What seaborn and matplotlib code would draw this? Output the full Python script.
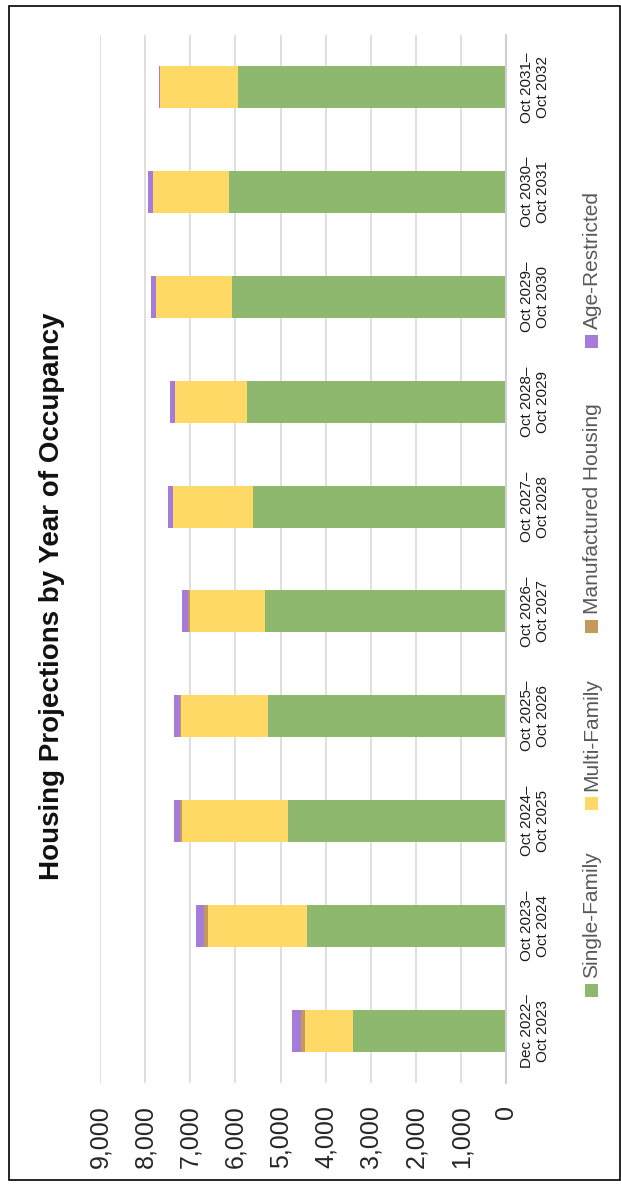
import numpy as np
import matplotlib
matplotlib.use('Agg')
import matplotlib.pyplot as plt
from matplotlib.patches import Rectangle
import seaborn as sns

periods = ['Dec 2022–\nOct 2023', 'Oct 2023–\nOct 2024', 'Oct 2024–\nOct 2025',
           'Oct 2025–\nOct 2026', 'Oct 2026–\nOct 2027', 'Oct 2027–\nOct 2028',
           'Oct 2028–\nOct 2029', 'Oct 2029–\nOct 2030', 'Oct 2030–\nOct 2031',
           'Oct 2031–\nOct 2032']
single_family = [3385, 4425, 4835, 5275, 5350, 5615, 5735, 6080, 6140, 5950]
multi_family = [1080, 2180, 2340, 1920, 1665, 1770, 1610, 1685, 1675, 1715]
manufactured = [80, 90, 45, 25, 40, 0, 0, 0, 0, 0]
age_restricted = [200, 180, 140, 150, 125, 110, 110, 110, 120, 20]
ticks = list(range(0, 9001, 1000))

series = ['Single-Family', 'Multi-Family', 'Manufactured Housing', 'Age-Restricted']
colors = ['#8FB86F', '#FFD966', '#C3995C', '#A67CDB']

sns.set_theme(style='white')
plt.rcParams['font.family'] = ['Liberation Sans', 'DejaVu Sans']

W, H = 621, 1186
fig = plt.figure(figsize=(W / 100, H / 100), dpi=100)
ax = fig.add_axes([100 / W, 1 - 1083 / H, (506.3 - 100) / W, (1083 - 35) / H])

# stacked bars: draw cumulative totals back to front
stack = np.cumsum([single_family, multi_family, manufactured, age_restricted], axis=0)
for i in range(3, -1, -1):
    sns.barplot(x=stack[i], y=periods, orient='h', color=colors[i], saturation=1,
                width=0.4, linewidth=0, ax=ax)

ax.set_xlim(9000, 0)
ax.set_ylim(-0.5, 9.5)
ax.set_xlabel('')
ax.set_ylabel('')
ax.set_xticks(ticks)
ax.set_xticklabels([f'{t:,}' for t in ticks], rotation=90, fontsize=18, color='#262626')
ax.tick_params(axis='x', length=0, pad=16)
ax.xaxis.grid(True, color='#d9d9d9', lw=1.2)
ax.yaxis.grid(False)
ax.set_axisbelow(True)

ax.yaxis.tick_right()
ax.tick_params(axis='y', length=0, pad=10)
for lab in ax.get_yticklabels():
    lab.set_rotation(90)
    lab.set_fontsize(11)
    lab.set_color('#1a1a1a')
    lab.set_ha('left')
    lab.set_va('center')
    lab.set_multialignment('center')

for s in ['top', 'bottom', 'left']:
    ax.spines[s].set_visible(False)
ax.spines['right'].set_color('#d0d0d0')
ax.spines['right'].set_linewidth(1.5)

# title (rotated with the chart)
fig.text(52 / W, 1 - 596 / H, 'Housing Projections by Year of Occupancy', rotation=90,
         ha='center', va='center', fontsize=20, fontweight='bold', color='#111111')

# legend, drawn by hand because it is rotated
leg_sq = [997, 810, 633, 348]
for name, col, y0 in zip(series, colors, leg_sq):
    fig.patches.append(Rectangle((585 / W, 1 - y0 / H), 12.7 / W, 12.7 / H,
                                 transform=fig.transFigure, color=col, lw=0))
    fig.text(592 / W, 1 - (y0 - 19) / H, name, rotation=90, ha='center', va='bottom',
             fontsize=15, color='#595959')

# outer frame
fig.patches.append(Rectangle((9 / W, 6 / H), (620 - 9) / W, (1180 - 6) / H, fill=False,
                             transform=fig.transFigure, ec='black', lw=1.2))

fig.savefig('out.png', dpi=100)
